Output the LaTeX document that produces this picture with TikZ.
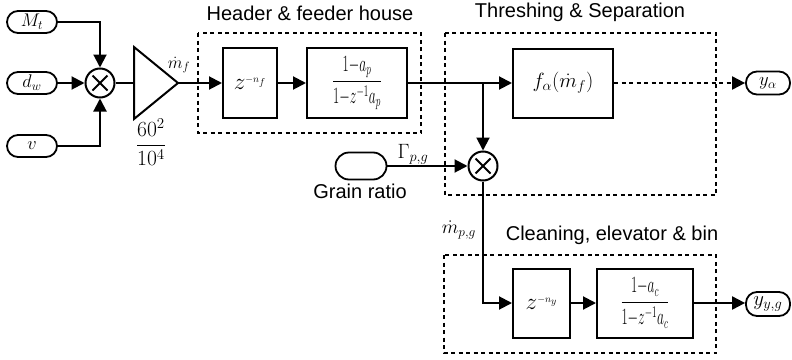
\documentclass[tikz,border=0pt]{standalone}
\usepackage{amsmath}
\usepackage{graphicx}
\usepackage[no-math]{fontspec}
\setmainfont{Liberation Sans}
\usetikzlibrary{arrows.meta}
\newcommand\mfnt{\fontsize{17.28}{20}\selectfont}
\newcommand\mmin{\mathord{-}}
\newcommand\sm[2]{\scalebox{#1}{$#2$}}
\tikzset{
  blk/.style={draw, line width=2pt, inner sep=0pt, font=\mfnt},
  pill/.style={draw, line width=1.8pt, rounded corners=11pt, minimum width=50pt, minimum height=22pt, inner sep=0pt, font=\mfnt},
  grp/.style={draw, line width=2pt, dash pattern=on 4pt off 3.5pt},
  wire/.style={line width=2pt, -{Triangle[length=13pt,width=13pt]}},
  plain/.style={line width=2pt},
  mult/.style={draw, circle, line width=2pt, minimum size=29pt, inner sep=0pt,
    path picture={\draw[line width=2pt]
      ([shift={(-7.5pt,-7.5pt)}]path picture bounding box.center) -- ([shift={(7.5pt,7.5pt)}]path picture bounding box.center)
      ([shift={(-7.5pt,7.5pt)}]path picture bounding box.center) -- ([shift={(7.5pt,-7.5pt)}]path picture bounding box.center);}},
  ttl/.style={font=\fontsize{20}{24}\selectfont},
  lbl/.style={font=\mfnt, inner sep=0pt},
}
\begin{document}
\begin{tikzpicture}[x=1pt,y=-1pt]
\useasboundingbox (0,0) rectangle (792,359);
% inputs
\node[pill] (Mt) at (32,22) {\sm{1.06}{M_t}};
\node[pill] (dw) at (32,83) {\sm{1.06}{d_w}};
\node[pill] (v) at (32,146) {\sm{1.06}{v}};
\node[mult] (m1) at (100,83) {};
\draw[wire] (Mt.east) -| (m1.north);
\draw[wire] (dw.east) -- (m1.west);
\draw[wire] (v.east) -| (m1.south);
% gain
\draw[line width=2pt] (134,47) -- (178,83) -- (134,119) -- cycle;
\coordinate (gin) at (134,83);
\coordinate (gout) at (178,83);
\draw[plain] (m1.east) -- (gin);
\node[lbl] (mf) at (179,65) {$\dot m_f$};
\node[lbl] (gk) at (151,142) {\sm{1.25}{\dfrac{60^2}{10^4}}};
% header & feeder
\draw[grp] (198,33) rectangle (421,133);
\node[ttl] (t1) at (310,13) {Header \& feeder house};
\node[blk, minimum width=54pt, minimum height=70pt] (z1) at (250,83) {$\scalebox{1.35}{$z$}^{\scriptscriptstyle -n_f}$};
\node[blk, minimum width=100pt, minimum height=70pt] (h1) at (357,83) {\scalebox{0.78}[1.35]{$\dfrac{1\mmin a_p}{1\mmin z^{-1}a_p}$}};
\draw[wire] (gout) -- (z1.west);
\draw[wire] (z1.east) -- (h1.west);
% threshing
\draw[grp] (445,33) rectangle (716,195);
\node[ttl] (t2) at (580,12) {Threshing \& Separation};
\node[blk, minimum width=100pt, minimum height=69pt] (fa) at (563,83) {\sm{1.19}{f_\alpha(\dot m_f)}};
\draw[wire] (h1.east) -- (fa.west);
\node[pill, minimum width=44pt, minimum height=23pt] (ya) at (768,83) {\sm{1.08}{y_\alpha}};
\draw[wire, dash pattern=on 4pt off 3.5pt] (fa.east) -- (ya.west);
\coordinate (br) at (483,83);
\node[mult] (m2) at (483,166) {};
\draw[wire] (br) -- (m2.north);
\node[pill, minimum width=51pt, minimum height=27pt, rounded corners=13.5pt] (gr) at (361,166) {};
\node[ttl] (grl) at (360,191) {Grain ratio};
\draw[wire] (gr.east) -- (m2.west);
\node[lbl] (gam) at (413,154) {\sm{1.2}{\Gamma_{p,g}}};
% cleaning
\draw[grp] (444,255) rectangle (716,353);
\node[ttl] (t3) at (612,235) {Cleaning, elevator \& bin};
\node[lbl] (mpg) at (459,230) {\sm{1.12}{\dot m_{p,g}}};
\node[blk, minimum width=57pt, minimum height=69pt] (z2) at (541.5,303) {$\scalebox{1.35}{$z$}^{\scriptscriptstyle -n_y}$};
\node[blk, minimum width=96pt, minimum height=69pt] (h2) at (645,303) {\scalebox{0.78}[1.35]{$\dfrac{1\mmin a_c}{1\mmin z^{-1}a_c}$}};
\node[pill, minimum width=44pt, minimum height=24pt] (yy) at (768,304) {\sm{1.2}{y_{y,g}}};
\draw[wire] (m2.south) |- (z2.west);
\draw[wire] (z2.east) -- (h2.west);
\draw[wire] (h2.east) -- (yy.west |- h2.east);
\end{tikzpicture}
\end{document}
